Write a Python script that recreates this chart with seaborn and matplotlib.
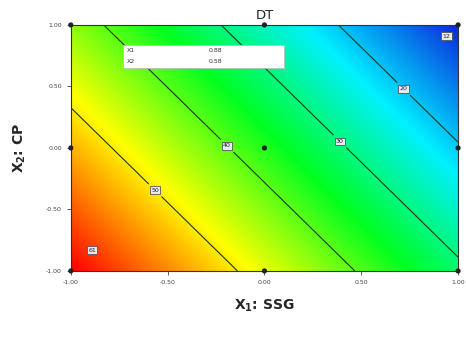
import numpy as np
import matplotlib
matplotlib.use("Agg")
import matplotlib.pyplot as plt
from matplotlib.colors import LinearSegmentedColormap
import seaborn as sns

# coded factor levels (3x3 design)
x1_levels = [-1.0, 0.0, 1.0]
x2_levels = [-1.0, 0.0, 1.0]
tick_vals = [-1.0, -0.5, 0.0, 0.5, 1.0]
tick_labels = ["-1.00", "-0.50", "0.00", "0.50", "1.00"]

# fitted DT model (coded units)
b0 = 37.0
b1 = -16.5   # SSG
b2 = -10.7   # CP

contour_levels = [20, 30, 40, 50]
label_spots = [(0.70, 0.45), (0.40, 0.07), (-0.16, 0.07), (-0.55, -0.32)]
corner_spots = [(-0.89, -0.83), (0.94, 0.91)]

flag_names = ["X1", "X2"]
flag_vals = ["0.88", "0.58"]

sns.set_theme(style="white")
plt.rcParams["font.family"] = ["DejaVu Sans"]

g1, g2 = np.meshgrid(np.linspace(-1, 1, 300), np.linspace(-1, 1, 300))
dt = b0 + b1 * g1 + b2 * g2

cmap = LinearSegmentedColormap.from_list(
    "de", [(0.0, "#0a28dc"), (0.24, "#00f0ff"), (0.47, "#00ff20"),
           (0.72, "#ffff00"), (1.0, "#ff0000")])

fig = plt.figure(figsize=(4.66, 3.37), dpi=100)
ax = fig.add_axes([0.152, 0.196, 0.831, 0.730])

ax.imshow(dt, extent=(-1, 1, -1, 1), origin="lower", cmap=cmap,
          aspect="auto", interpolation="bilinear")
cs = ax.contour(g1, g2, dt, levels=contour_levels, colors="#1a3a1a",
                linewidths=0.8)
lbls = ax.clabel(cs, fmt="%d", fontsize=4.5, manual=label_spots,
                 inline=True, colors="#222244")
for t in lbls:
    t.set_rotation(0)
    t.set_bbox(dict(facecolor="#e8e8ee", edgecolor="#555555", pad=1.0,
                    linewidth=0.6))

for cx, cy in corner_spots:
    val = b0 + b1 * cx + b2 * cy
    ax.text(cx, cy, f"{val:.0f}", fontsize=4.5, ha="center", va="center",
            color="#222244",
            bbox=dict(facecolor="#e8e8ee", edgecolor="#555555", pad=1.0,
                      linewidth=0.6))

# design points
px, py = np.meshgrid(x1_levels, x2_levels)
sns.scatterplot(x=px.ravel(), y=py.ravel(), color="#222222", s=14,
                edgecolor="none", ax=ax, clip_on=False, zorder=5)

# factor flag box
ax.add_patch(plt.Rectangle((-0.73, 0.65), 0.83, 0.19, facecolor="white",
                           edgecolor="#bbbbbb", linewidth=0.5, zorder=2))
for i, (nm, v) in enumerate(zip(flag_names, flag_vals)):
    yy = 0.79 - i * 0.09
    ax.text(-0.71, yy, nm, fontsize=4.5, va="center", color="#333333",
            zorder=3)
    ax.text(-0.29, yy, v, fontsize=4.5, va="center", color="#333333",
            zorder=3)

ax.set_xlim(-1, 1)
ax.set_ylim(-1, 1)
ax.set_xticks(tick_vals)
ax.set_xticklabels(tick_labels)
ax.set_yticks(tick_vals)
ax.set_yticklabels(tick_labels)
ax.tick_params(axis="both", labelsize=4.5, length=3, width=0.6,
               direction="out", colors="#444444", bottom=True, left=True)
for sp in ax.spines.values():
    sp.set_linewidth(0.8)
    sp.set_color("#333333")

ax.set_title("DT", fontsize=9.5, pad=4)
ax.set_xlabel("X$_\\mathbf{1}$: SSG", fontsize=10, fontweight="bold",
              labelpad=9)
ax.set_ylabel("X$_\\mathbf{2}$: CP", fontsize=10, fontweight="bold",
              labelpad=13)

fig.savefig("out.png", dpi=100)
